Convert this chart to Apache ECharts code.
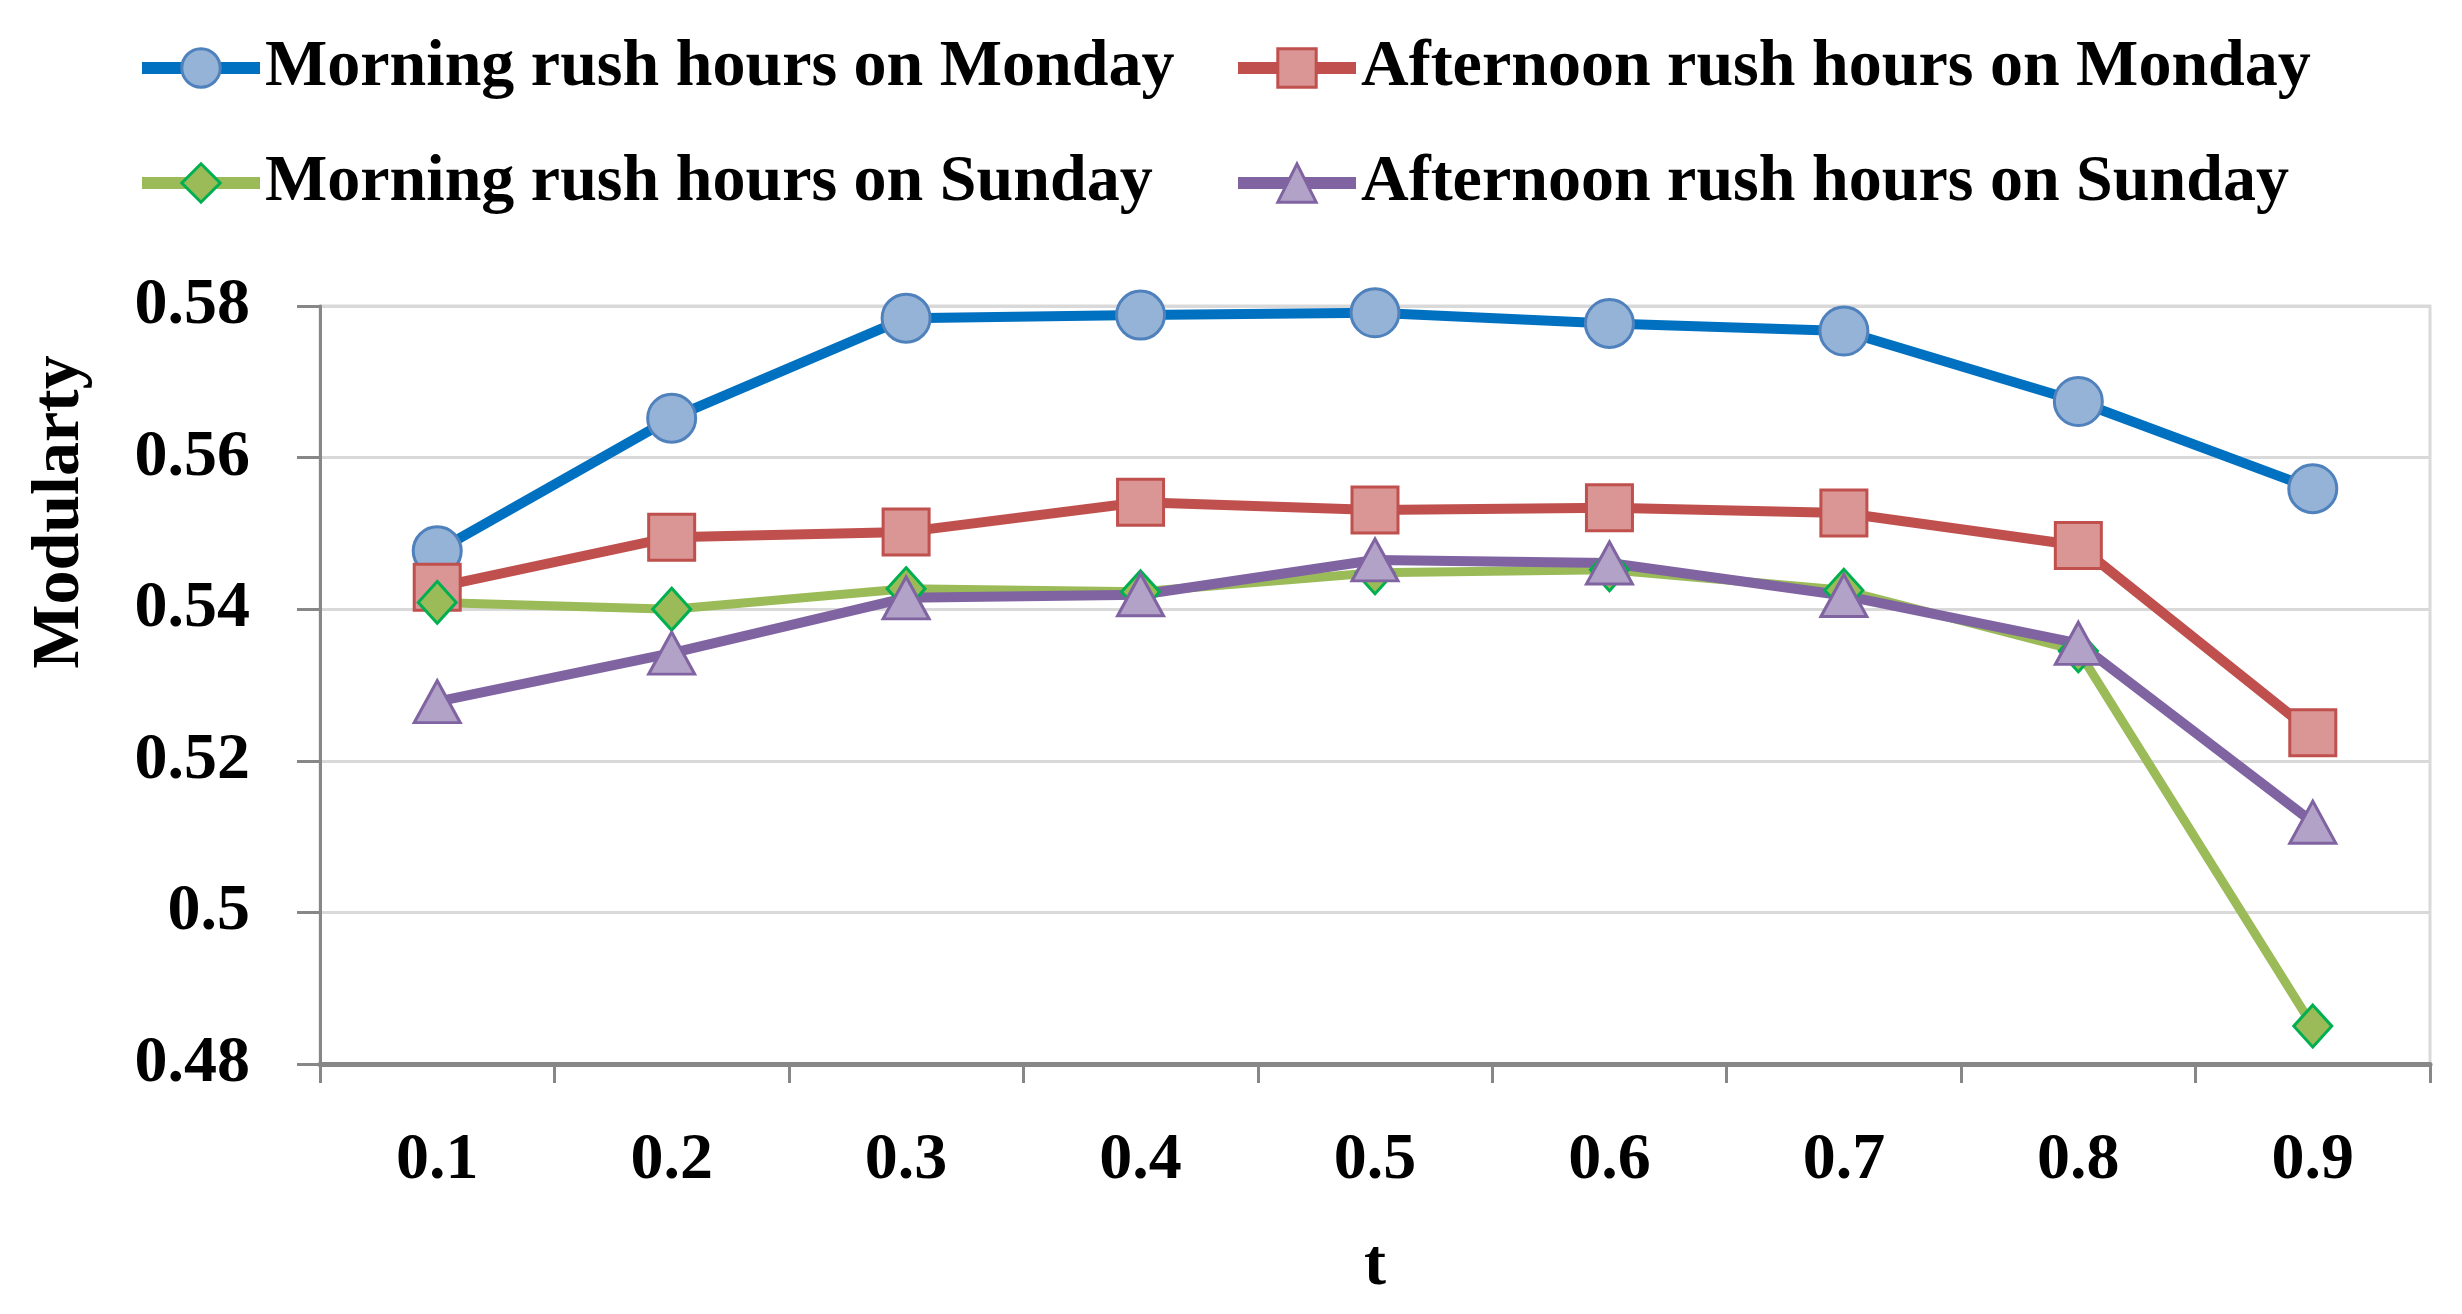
<!DOCTYPE html>
<html>
<head>
<meta charset="utf-8">
<script src="https://cdn.jsdelivr.net/npm/echarts@6/dist/echarts.min.js"></script>
<style>
html,body{margin:0;padding:0;background:#fff;}
#chart{width:2462px;height:1314px;}
</style>
</head>
<body>
<div id="chart"></div>
<script>
const categories = ['0.1','0.2','0.3','0.4','0.5','0.6','0.7','0.8','0.9'];
const morningMonday = [0.5477,0.5652,0.5784,0.5788,0.5791,0.5777,0.5767,0.5674,0.5559];
const afternoonMonday = [0.5429,0.5495,0.5502,0.5541,0.5531,0.5534,0.5527,0.5484,0.5237];
const morningSunday = [0.5409,0.5400,0.5427,0.5423,0.5448,0.5452,0.5425,0.5345,0.4850];
const afternoonSunday = [0.5278,0.5342,0.5415,0.5419,0.5465,0.5461,0.5418,0.5355,0.5119];
const seriesNames = ['Morning rush hours on Monday','Afternoon rush hours on Monday','Morning rush hours on Sunday','Afternoon rush hours on Sunday'];
const yTicks = {min:0.48, max:0.58, interval:0.02};

const FONT = 'Liberation Serif';
const chart = echarts.init(document.getElementById('chart'));
const legendText = {fontFamily:FONT, fontWeight:'bold', fontSize:66, color:'#000', lineHeight:70};
chart.setOption({
  backgroundColor:'#fff',
  animation:false,
  legend:[
    {orient:'vertical', left:136, top:33, padding:0, itemWidth:118, itemHeight:48, itemGap:45,
     lineStyle:{width:12}, itemStyle:{borderWidth:3},
     data:[seriesNames[0], seriesNames[2]], textStyle:legendText, selectedMode:false},
    {orient:'vertical', left:1232, top:33, padding:0, itemWidth:118, itemHeight:48, itemGap:45,
     lineStyle:{width:12}, itemStyle:{borderWidth:3},
     data:[seriesNames[1], seriesNames[3]], textStyle:legendText, selectedMode:false}
  ],
  grid:{left:320, right:32, top:306, bottom:250, show:true, borderColor:'#d9d9d9', borderWidth:3, containLabel:false},
  xAxis:{
    type:'category', data:categories, boundaryGap:true,
    name:'t', nameLocation:'middle', nameGap:170,
    nameTextStyle:{fontFamily:FONT, fontWeight:'bold', fontSize:66, color:'#000'},
    axisLine:{lineStyle:{color:'#878787', width:5}},
    axisTick:{show:true, length:19, lineStyle:{color:'#878787', width:3}},
    axisLabel:{fontFamily:FONT, fontWeight:'bold', fontSize:66, color:'#000', margin:64},
    splitLine:{show:false}
  },
  yAxis:{
    type:'value', min:yTicks.min, max:yTicks.max, interval:yTicks.interval,
    axisLine:{show:true, lineStyle:{color:'#878787', width:3}},
    axisTick:{show:true, length:23, lineStyle:{color:'#878787', width:3}},
    axisLabel:{fontFamily:FONT, fontWeight:'bold', fontSize:66, color:'#000', margin:70,
      formatter:v=>String(Math.round(v*100)/100)},
    splitLine:{show:true, lineStyle:{color:'#d9d9d9', width:3}}
  },
  graphic:[{
    type:'text', x:60, y:512, rotation:Math.PI/2,
    style:{text:'Modularty', fontFamily:FONT, fontWeight:'bold', fontSize:68, fill:'#000',
      textAlign:'center', textVerticalAlign:'middle'}
  }],
  series:[
    {name:seriesNames[0], type:'line', data:morningMonday, symbol:'circle', symbolSize:48,
     lineStyle:{color:'#0070C0', width:10}, itemStyle:{color:'#95B3D7', borderColor:'#4F81BD', borderWidth:3}},
    {name:seriesNames[1], type:'line', data:afternoonMonday, symbol:'rect', symbolSize:46,
     lineStyle:{color:'#C0504D', width:10}, itemStyle:{color:'#D99694', borderColor:'#C0504D', borderWidth:3}},
    {name:seriesNames[2], type:'line', data:morningSunday, symbol:'diamond', symbolSize:[38,42],
     lineStyle:{color:'#9BBB59', width:9}, itemStyle:{color:'#9BBB59', borderColor:'#00B050', borderWidth:3}},
    {name:seriesNames[3], type:'line', data:afternoonSunday, symbol:'triangle', symbolSize:[46,42],
     lineStyle:{color:'#8064A2', width:10}, itemStyle:{color:'#B3A2C7', borderColor:'#8064A2', borderWidth:3}}
  ]
});
</script>
</body>
</html>
